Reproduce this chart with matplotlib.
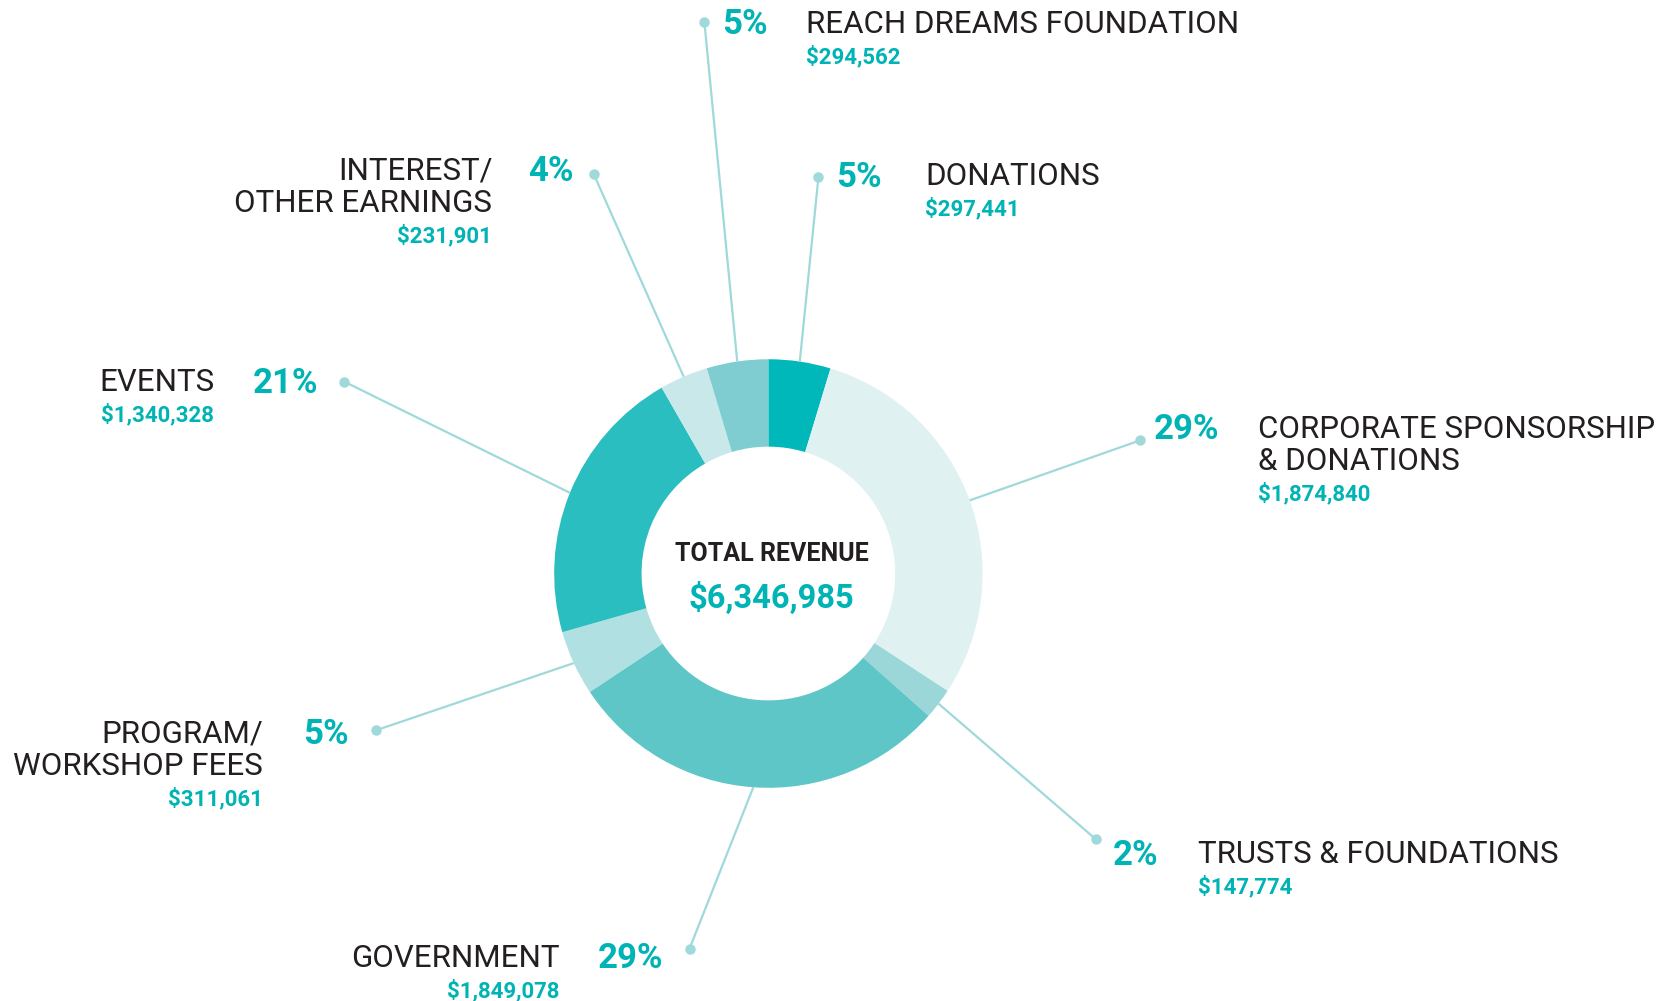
import matplotlib.pyplot as plt
import numpy as np

# datos del grafico (orden horario desde arriba)
categorias = ['DONATIONS', 'CORPORATE SPONSORSHIP\n& DONATIONS', 'TRUSTS & FOUNDATIONS',
              'GOVERNMENT', 'PROGRAM/\nWORKSHOP FEES', 'EVENTS',
              'INTEREST/\nOTHER EARNINGS', 'REACH DREAMS FOUNDATION']
montos = [297441, 1874840, 147774, 1849078, 311061, 1340328, 231901, 294562]
porcentajes = ['5%', '29%', '2%', '29%', '5%', '21%', '4%', '5%']
colores = ['#00B7B9', '#E0F1F1', '#9BD6D8', '#5FC6C7', '#B0E0E1', '#2BBEC1', '#C9E8EA', '#7FCDD0']

# posiciones de etiquetas (coordenadas de la imagen, y hacia abajo)
# punto, lado, x del porcentaje, x del nombre, y de la primera linea
puntos = [(768, 166), (1070, 413), (1028, 787), (647, 890),
          (353, 685), (323, 358), (557, 163), (661, 21)]
lados = ['der', 'der', 'der', 'izq', 'izq', 'izq', 'izq', 'der']
x_pct = [785, 1083, 1044, 561, 284, 237, 496, 678]
x_nombre = [868, 1180, 1124, 525, 247, 201, 462, 756]
y_linea = [163, 400, 799, 896, 686, 356, 158, 20]

W, H = 1568, 939
cx, cy = 721, 538
r_ext, r_int = 201, 119

TEAL = '#00B3B5'
OSCURO = '#231F20'
LINEA = '#9FD9DA'

plt.rcParams['font.family'] = ['Roboto', 'DejaVu Sans']

fig = plt.figure(figsize=(16.71, 10.01), dpi=100)
ax = fig.add_axes([0, 0, 1, 1])

ax.pie(montos, colors=colores, startangle=-90, counterclock=True,
       center=(cx, cy), radius=r_ext,
       wedgeprops=dict(width=r_ext - r_int, linewidth=0))

ax.set_xlim(0, W)
ax.set_ylim(H, 0)
ax.set_aspect('auto')
ax.axis('off')

total = sum(montos)
acumulado = np.cumsum([0] + montos)
for i, cat in enumerate(categorias):
    medio = (acumulado[i] + acumulado[i + 1]) / 2 / total * 2 * np.pi
    x0 = cx + r_ext * np.sin(medio)
    y0 = cy - r_ext * np.cos(medio)
    px, py = puntos[i]
    ax.plot([x0, px], [y0, py], color=LINEA, linewidth=1.6, solid_capstyle='butt', zorder=1)
    ax.plot(px, py, 'o', color=LINEA, markersize=6.5, zorder=2)

    lineas = cat.count('\n') + 1
    y = y_linea[i]
    ha = 'left' if lados[i] == 'der' else 'right'
    ax.text(x_pct[i], y, porcentajes[i], color=TEAL, fontsize=25, fontweight='bold',
            ha='left', va='center_baseline')
    for j, parte in enumerate(cat.split('\n')):
        ax.text(x_nombre[i], y + 30 * j, parte, color=OSCURO, fontsize=22.5,
                ha=ha, va='center_baseline')
    ax.text(x_nombre[i], y + 30 * (lineas - 1) + 31, f'${montos[i]:,}', color=TEAL,
            fontsize=16, fontweight='bold', ha=ha, va='center_baseline')

ax.text(cx + 3, 517, 'TOTAL REVENUE', color=OSCURO, fontsize=18, fontweight='bold',
        ha='center', va='center_baseline')
ax.text(cx + 3, 558, f'${total:,}', color=TEAL, fontsize=23.5, fontweight='bold',
        ha='center', va='center_baseline')

fig.savefig('out.png', dpi=100)
